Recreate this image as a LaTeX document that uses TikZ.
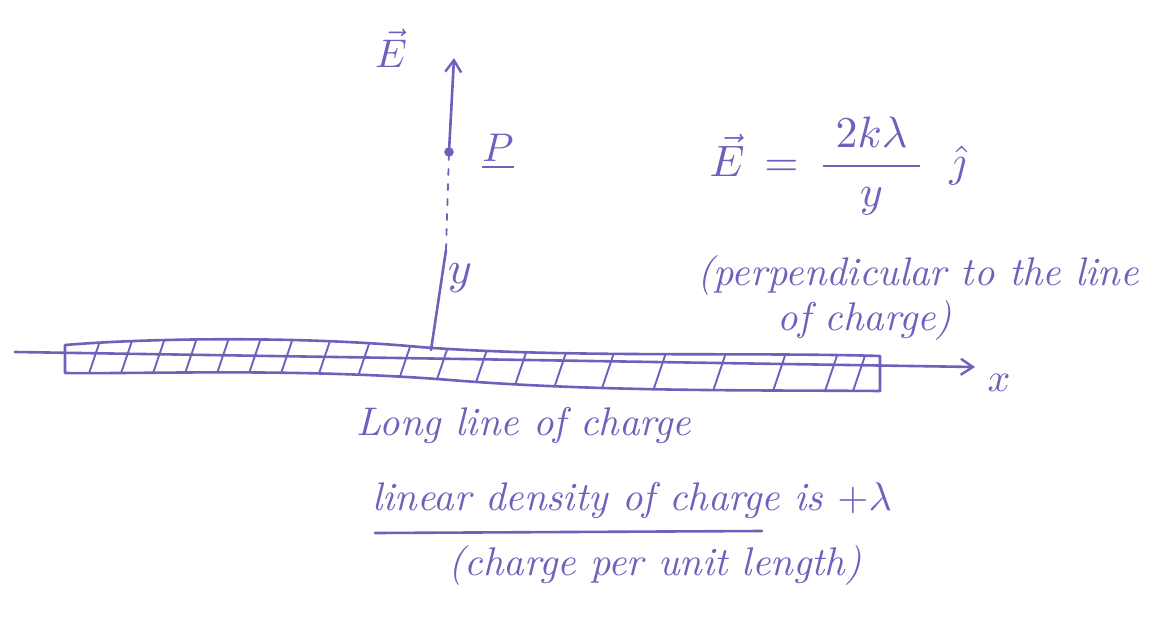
\documentclass[tikz,border=0pt]{standalone}
\usetikzlibrary{arrows.meta}
\definecolor{ink}{RGB}{108,98,188}
\begin{document}
\begin{tikzpicture}[x=1pt,y=-1pt,
  inkline/.style={draw=ink,line width=2.6pt,line cap=round,line join=round},
  thin ink/.style={draw=ink,line width=1.9pt,line cap=round},
  hand/.style={text=ink,font=\itshape,inner sep=0pt,scale=4},
  barb/.style={-{Straight Barb[length=12pt,width=16pt,line width=2.4pt]}}]
\useasboundingbox (0,0) rectangle (1167,618);
% coordinates
\coordinate (axL) at (15,352);
\coordinate (axR) at (975,367);
\coordinate (base) at (431,350);
\coordinate (dashS) at (446,250);
\coordinate (Etip) at (454,58);
\coordinate (rTL) at (65,345);
\coordinate (rTR) at (880,356);
\coordinate (rBR) at (880,391);
\coordinate (rBL) at (65,373);
\coordinate (ulA) at (375,533);
\coordinate (ulB) at (762,531);
% charged rod
\draw[inkline] (rBL) -- (rTL) .. controls (150,338) and (300,336) .. (420,347)
   .. controls (560,358) and (750,352) .. (rTR) -- (rBR)
   .. controls (760,390) and (600,392) .. (450,380)
   .. controls (300,368) and (150,374) .. (rBL);
\begin{scope}
\clip (rBL) -- (rTL) .. controls (150,338) and (300,336) .. (420,347)
   .. controls (560,358) and (750,352) .. (rTR) -- (rBR)
   .. controls (760,390) and (600,392) .. (450,380)
   .. controls (300,368) and (150,374) .. (rBL) -- cycle;
\foreach \x in {80,112,144,176,208,240,272,310,350,392,430,470,510,550,598,650,710,770,822,850}
  \draw[thin ink] (\x,400) -- (\x+22,335);
\end{scope}
% x axis
\draw[inkline,barb] (axL) -- (axR);
\node[hand] (xlab) at (999,383) {$x$};
% vertical line through P
\node[circle,fill=ink,draw=ink,minimum size=9pt,inner sep=0pt] (P) at (449,152) {};
\draw[inkline] (base) -- (dashS);
\draw[inkline,line width=1.8pt,dash pattern=on 6pt off 9pt] (dashS) -- (P);
\draw[inkline,barb] (P) -- (Etip);
\node[hand] (Elab) at (391,48) {$\vec{E}$};
\node[hand] (Plab) at (498,152) {$\underline{P}$};
\node[hand,scale=1.15] (ylab) at (460,278) {$y$};
% formula
\node[hand,scale=1.1] (eq) at (838,166)
  {$\displaystyle\vec{E} \,=\, \frac{\;2k\lambda\;}{y}\;\;\hat{\jmath}$};
\node[hand] (perp1) at (918,275) {(perpendicular to the line};
\node[hand] (perp2) at (865,320) {of charge)};
% texts under the rod
\node[hand] (long) at (524,425) {Long line of charge};
\node[hand] (dens) at (632,500) {linear density of charge is $+\lambda$};
\draw[inkline] (ulA) -- (ulB);
\node[hand] (cpl) at (655,565) {(charge per unit length)};
\end{tikzpicture}
\end{document}
